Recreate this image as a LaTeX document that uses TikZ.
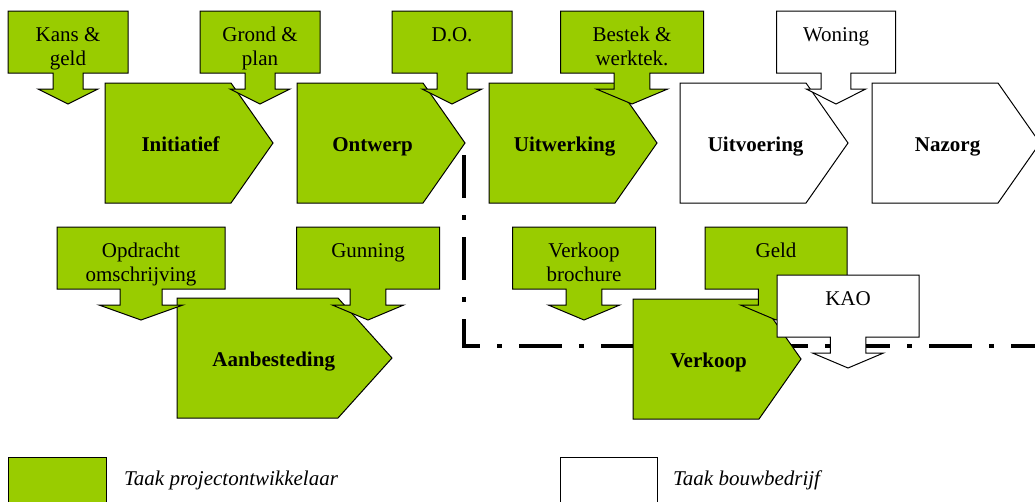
\documentclass[tikz,border=0pt]{standalone}
\usepackage{fontspec}
\setmainfont{Liberation Serif}

\definecolor{groen}{RGB}{153,204,0}

\tikzset{
    vlak/.style={draw=black, line width=1pt, line join=miter},
    tekst/.style={inner sep=0pt, align=center, font=\fontsize{21}{24}\selectfont},
    fase/.style={inner sep=0pt, font=\fontsize{21}{24}\selectfont\bfseries},
    legenda/.style={inner sep=0pt, font=\fontsize{21}{24}\selectfont\itshape},
}

\begin{document}
\begin{tikzpicture}[x=1pt,y=-1pt]

    % size of the picture
    \useasboundingbox (0,0) rectangle (1035,501);
    \clip (0,0) rectangle (1035,501);

    % dash-dot line
    \draw[line width=4pt, dash pattern=on 43pt off 17pt on 5pt off 17pt] (464,155) -- (464,346) -- (1040,346);

    % phases
    \foreach \nm/\x/\y/\w/\p/\kl/\txt in {initiatief/105/83/168/42/groen/Initiatief,
        ontwerp/297/83/168/42/groen/Ontwerp, uitwerking/489/83/168/42/groen/Uitwerking,
        uitvoering/680/83/168/42/white/Uitvoering, nazorg/872/83/168/42/white/Nazorg,
        aanbesteding/177/298/215/54/groen/Aanbesteding, verkoop/633/299/168/42/groen/Verkoop}
    {
        \draw[vlak, fill=\kl] (\x,\y) -- ++({\w-\p},0) -- ++(\p,60) -- ++(-\p,60) -- ++({\p-\w},0) -- cycle;
        \node[fase, anchor=base] (\nm) at ({\x+0.45*\w},{\y+68}) {\txt};
    }

    % callouts
    \foreach \nm/\cx/\y/\w/\kl/\txt in {kans/68/11/120/groen/{Kans \&\\geld},
        grond/260/11/120/groen/{Grond \&\\plan}, do/452/11/120/groen/{D.O.},
        bestek/632/11/143/groen/{Bestek \&\\werktek.}, woning/836/11/119/white/{Woning},
        opdracht/141/227/168/groen/{Opdracht\\omschrijving}, gunning/368/227/143/groen/{Gunning},
        brochure/584/227/143/groen/{Verkoop\\brochure}, geld/776/227/142/groen/{Geld},
        kao/848/275/142/white/{KAO}}
    {
        \draw[vlak, fill=\kl] ({\cx-\w/2},\y) -- ++(\w,0) -- ++(0,62) -- ({\cx+\w/8},{\y+62})
            -- ++(0,16) -- ({\cx+\w/4},{\y+78}) -- (\cx,{\y+93}) -- ({\cx-\w/4},{\y+78})
            -- ({\cx-\w/8},{\y+78}) -- ++(0,-16) -- ({\cx-\w/2},{\y+62}) -- cycle;
        \node[tekst, anchor=north] (\nm) at (\cx,{\y+16}) {\txt};
    }

    % legend
    \draw[vlak, fill=groen] (8,457) rectangle (106,520);
    \node[legenda, anchor=base west] (taakpo) at (124,485) {Taak projectontwikkelaar};
    \draw[vlak, fill=white] (560,457) rectangle (657,520);
    \node[legenda, anchor=base west] (taakbb) at (673,485) {Taak bouwbedrijf};

\end{tikzpicture}
\end{document}
